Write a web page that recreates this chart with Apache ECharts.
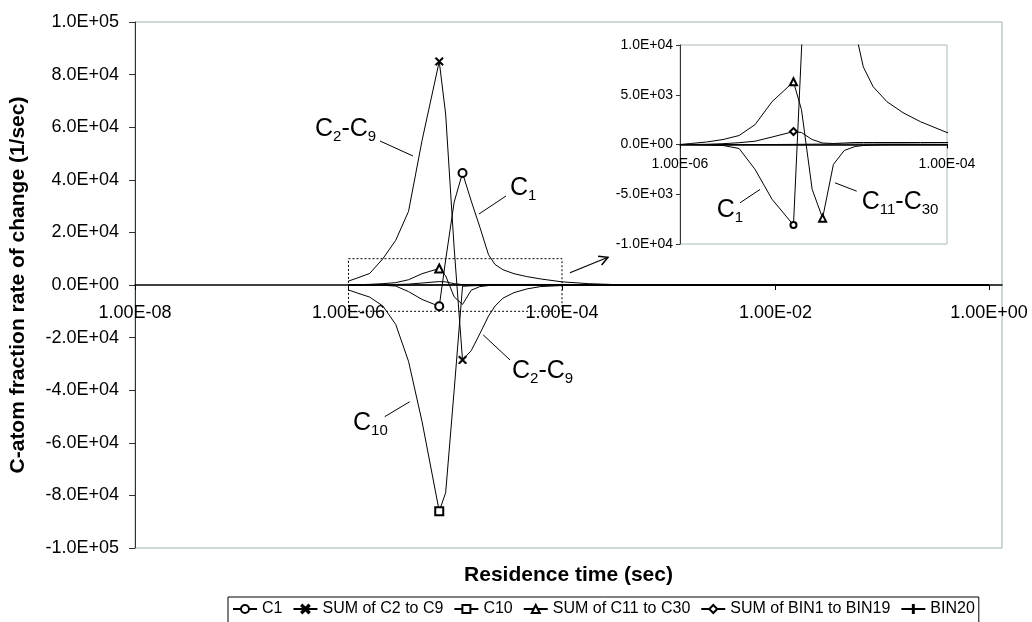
<!DOCTYPE html>
<html>
<head>
<meta charset="utf-8">
<title>C-atom fraction rate of change</title>
<script src="https://cdn.jsdelivr.net/npm/echarts@6/dist/echarts.min.js"></script>
<style>
  html, body { margin: 0; padding: 0; background: #ffffff; }
  #chart { width: 1032px; height: 622px; }
</style>
</head>
<body>
<div id="chart"></div>
<script>
// Residence time of each sample (s)
const residenceTime = [1.00e-6, 1.20e-6, 1.58e-6, 2.10e-6, 2.77e-6, 3.65e-6, 4.89e-6, 7.08e-6,
  8.13e-6, 9.77e-6, 1.17e-5, 1.41e-5, 1.70e-5, 2.05e-5, 2.36e-5, 2.80e-5, 3.55e-5, 4.68e-5,
  6.31e-5, 1.00e-4, 1.78e-4, 3.16e-4, 1.00e-3, 1.00e-2, 1.00e-1, 1.00e0];

// C-atom fraction rate of change (1/s) per group
const rateC1 = [0, 0, -50, -100, -400, -2500, -5500, -8100, 9500, 31500, 42600, 32000,
  22000, 11500, 7800, 5800, 4300, 3200, 2300, 1200, 500, 150, 0, 0, 0, 0];
const rateC2toC9 = [1500, 2600, 4400, 10000, 17000, 28000, 55000, 85000, 65000, 14000, -28500,
  -25000, -18500, -11800, -8000, -5000, -2900, -1500, -600, -200, -50, 0, 0, 0, 0, 0];
const rateC10 = [-1900, -3000, -4600, -8000, -15000, -29000, -52000, -86000, -79000, -40000,
  -500, -300, -200, -100, -80, -50, -30, -20, -10, 0, 0, 0, 0, 0, 0, 0];
const rateC11toC30 = [0, 100, 250, 500, 900, 2000, 4300, 6300, 3500, -4500, -7400, -2000,
  -600, -200, -100, -50, 0, 0, 0, 0, 0, 0, 0, 0, 0, 0];
const rateBin1toBin19 = [0, 0, 20, 80, 180, 330, 750, 1300, 1200, 500, 150, 100, 150, 200,
  200, 200, 200, 200, 200, 200, 150, 80, 0, 0, 0, 0];
const rateBin20 = [0, 0, 0, 0, 0, 0, 0, 10, 20, 30, 40, 40, 40, 40, 40, 40, 40, 40, 30, 20,
  10, 0, 0, 0, 0, 0];

// Axis ticks and bounds
const mainTimeTicks = [1e-8, 1e-6, 1e-4, 1e-2, 1e0];
const mainTimeRange = [1e-8, 1.324];
const detailTimeTicks = [1e-6, 1e-4];
const mainRateRange = [-100000, 100000, 20000];
const detailRateRange = [-10000, 10000, 5000];

// Legend entries
const seriesNames = ['C1', 'SUM of C2 to C9', 'C10', 'SUM of C11 to C30', 'SUM of BIN1 to BIN19', 'BIN20'];

const FONT = "'Liberation Sans', Arial, Helvetica, sans-serif";
const chart = echarts.init(document.getElementById('chart'), null, { renderer: 'canvas' });

function rateLabel(v, digits) {
  if (Math.abs(v) < 1e-9) return (0).toFixed(digits) + 'E+00';
  const e = Math.floor(Math.log10(Math.abs(v)) + 1e-9);
  const m = v / Math.pow(10, e);
  return m.toFixed(digits) + 'E' + (e < 0 ? '-' : '+') + String(Math.abs(e)).padStart(2, '0');
}
function timeLabel(v) {
  const e = Math.round(Math.log10(v));
  return '1.00E' + (e < 0 ? '-' : '+') + String(Math.abs(e)).padStart(2, '0');
}

// marker shapes (the bar keeps a square box so it stays thin)
const SYM = {
  circle: 'emptyCircle',
  cross: 'path://M1.2,0L5,3.8L8.8,0L10,1.2L6.2,5L10,8.8L8.8,10L5,6.2L1.2,10L0,8.8L3.8,5L0,1.2Z',
  square: 'emptyRect',
  triangle: 'emptyTriangle',
  diamond: 'emptyDiamond',
  bar: 'path://M0,5L0,5M4.4,0L5.6,0L5.6,10L4.4,10ZM10,5L10,5'
};

function points(values, marked) {
  return residenceTime.map((t, i) => marked.indexOf(i) >= 0
    ? { value: [t, values[i]] }
    : { value: [t, values[i]], symbol: 'none' });
}

function lineSeries(name, values, symbol, marked, grid, extra) {
  return Object.assign({
    name: name,
    type: 'line',
    xAxisIndex: grid,
    yAxisIndex: grid,
    data: points(values, marked),
    symbol: symbol,
    symbolSize: 8,
    symbolKeepAspect: true,
    showSymbol: true,
    showAllSymbol: true,
    clip: true,
    color: '#000',
    lineStyle: { color: '#000', width: 1 },
    itemStyle: { color: '#000', borderColor: '#000', borderWidth: 1 },
    emphasis: { disabled: true },
    z: 3
  }, extra || {});
}

const mainGrid = { left: 135, top: 22, width: 867, height: 526 };
const detailGrid = { left: 680, top: 45, width: 267, height: 199 };

const series = [
  lineSeries(seriesNames[0], rateC1, SYM.circle, [7, 10], 0, {
    markArea: {
      silent: true,
      itemStyle: { color: 'rgba(0,0,0,0)', borderColor: '#000', borderWidth: 1, borderType: [2, 2] },
      data: [[{ coord: [detailTimeTicks[0], detailRateRange[1]] }, { coord: [detailTimeTicks[1], detailRateRange[0]] }]]
    }
  }),
  lineSeries(seriesNames[1], rateC2toC9, SYM.cross, [7, 10], 0),
  lineSeries(seriesNames[2], rateC10, SYM.square, [7], 0),
  lineSeries(seriesNames[3], rateC11toC30, SYM.triangle, [7], 0),
  lineSeries(seriesNames[4], rateBin1toBin19, SYM.diamond, [], 0),
  lineSeries(seriesNames[5], rateBin20, SYM.bar, [], 0),
  // detail window
  lineSeries('detail-C1', rateC1, SYM.circle, [7], 1, { symbolSize: 6 }),
  lineSeries('detail-C11-C30', rateC11toC30, SYM.triangle, [7, 10], 1, { symbolSize: 7 }),
  lineSeries('detail-BIN1-BIN19', rateBin1toBin19, SYM.diamond, [7], 1, { symbolSize: 7 }),
  lineSeries('detail-BIN20', rateBin20, SYM.bar, [], 1)
];

const option = {
  animation: false,
  backgroundColor: '#ffffff',
  textStyle: { fontFamily: FONT, color: '#000' },
  grid: [
    Object.assign({ show: true, borderColor: '#9fb0b0', borderWidth: 1, backgroundColor: '#fff',
      containLabel: false, outerBoundsMode: 'none' }, mainGrid),
    Object.assign({ show: true, borderColor: '#a9b9b9', borderWidth: 1, backgroundColor: '#fff',
      containLabel: false, outerBoundsMode: 'none' }, detailGrid)
  ],
  xAxis: [
    {
      // time axis drawn through rate = 0 (middle of the symmetric range)
      gridIndex: 0, type: 'log', logBase: 10, min: mainTimeRange[0], max: mainTimeRange[1],
      position: 'bottom', offset: -mainGrid.height / 2,
      axisLine: { onZero: false, lineStyle: { color: '#000', width: 1.6 } },
      axisTick: { show: true, customValues: mainTimeTicks, length: 5, lineStyle: { color: '#000' } },
      axisLabel: { customValues: mainTimeTicks, formatter: timeLabel, fontSize: 18, color: '#000', margin: 19, fontFamily: FONT },
      splitLine: { show: false }, minorTick: { show: false }
    },
    {
      gridIndex: 1, type: 'log', logBase: 10, min: detailTimeTicks[0], max: detailTimeTicks[1],
      position: 'bottom', offset: -detailGrid.height / 2,
      axisLine: { onZero: false, lineStyle: { color: '#000', width: 1.5 } },
      axisTick: { show: true, customValues: detailTimeTicks, length: 4, lineStyle: { color: '#000' } },
      axisLabel: { customValues: detailTimeTicks, formatter: timeLabel, fontSize: 14, color: '#000', margin: 13, fontFamily: FONT },
      splitLine: { show: false }, minorTick: { show: false }
    }
  ],
  yAxis: [
    {
      gridIndex: 0, type: 'value', min: mainRateRange[0], max: mainRateRange[1], interval: mainRateRange[2],
      axisLine: { show: true, onZero: false, lineStyle: { color: '#333', width: 1 } },
      axisTick: { show: true, length: 6, lineStyle: { color: '#333' } },
      axisLabel: { formatter: v => rateLabel(v, 1), fontSize: 18, color: '#000', margin: 16, fontFamily: FONT },
      splitLine: { show: false },
      name: 'C-atom fraction rate of change (1/sec)',
      nameLocation: 'middle', nameGap: 106,
      nameTextStyle: { fontSize: 21, fontWeight: 'bold', color: '#000', fontFamily: FONT }
    },
    {
      gridIndex: 1, type: 'value', min: detailRateRange[0], max: detailRateRange[1], interval: detailRateRange[2],
      axisLine: { show: true, onZero: false, lineStyle: { color: '#333', width: 1 } },
      axisTick: { show: true, length: 4, lineStyle: { color: '#333' } },
      axisLabel: { formatter: v => rateLabel(v, 1), fontSize: 14, color: '#000', margin: 7, fontFamily: FONT },
      splitLine: { show: false }
    }
  ],
  legend: {
    data: seriesNames,
    left: 228, top: 597,
    orient: 'horizontal',
    itemWidth: 24, itemHeight: 10, itemGap: 10,
    padding: [4, 4, 6, 4],
    borderColor: '#000', borderWidth: 1,
    textStyle: { fontSize: 16, color: '#000', fontFamily: FONT },
    selectedMode: false
  },
  series: series
};

chart.setOption(option);

// Curve labels, anchored in data coordinates [time, rate]
const curveLabels = [
  { grid: 0, text: '{b|C}{s|2}{b|-C}{s|9}', at: [4.855e-7, 59300], lead: [[1.973e-6, 54750], [4.019e-6, 49050]] },
  { grid: 0, text: '{b|C}{s|1}', at: [3.257e-5, 36900], lead: [[1.669e-5, 27000], [2.988e-5, 33840]] },
  { grid: 0, text: '{b|C}{s|2}{b|-C}{s|9}', at: [3.401e-5, -32700], lead: [[1.831e-5, -19010], [3.257e-5, -28500]] },
  { grid: 0, text: '{b|C}{s|10}', at: [1.102e-6, -52500], lead: [[2.185e-6, -50070], [3.748e-6, -44370]] },
  { grid: 1, text: '{b|C}{s|1}', at: [1.883e-6, -6630], lead: [[2.814e-6, -5860], [3.975e-6, -4520]] },
  { grid: 1, text: '{b|C}{s|11}{b|-C}{s|30}', at: [2.296e-5, -5830], lead: [[1.449e-5, -3850], [2.106e-5, -4690]] }
];
// Arrow from the dotted window to the detail plot
const windowArrow = [[1.188e-4, 4680], [2.697e-4, 10530]];

function toPx(grid, pt) { return chart.convertToPixel({ gridIndex: grid }, pt); }

const graphics = [];
curveLabels.forEach(lbl => {
  const p = toPx(lbl.grid, lbl.at);
  graphics.push({
    type: 'text', x: p[0], y: p[1], z: 10, silent: true,
    style: {
      text: lbl.text, fill: '#000', align: 'left', verticalAlign: 'middle',
      rich: {
        b: { fontSize: 25, lineHeight: 30, fontFamily: FONT, fill: '#000' },
        s: { fontSize: 15, lineHeight: 12, verticalAlign: 'bottom', fontFamily: FONT, fill: '#000' }
      }
    }
  });
  const a = toPx(lbl.grid, lbl.lead[0]);
  const b = toPx(lbl.grid, lbl.lead[1]);
  graphics.push({ type: 'line', z: 10, silent: true, shape: { x1: a[0], y1: a[1], x2: b[0], y2: b[1] }, style: { stroke: '#000', lineWidth: 1 } });
});
(function () {
  const a = toPx(0, windowArrow[0]);
  const b = toPx(0, windowArrow[1]);
  const ang = Math.atan2(b[1] - a[1], b[0] - a[0]);
  const h = 10, spread = 0.5;
  graphics.push({ type: 'line', z: 10, silent: true, shape: { x1: a[0], y1: a[1], x2: b[0], y2: b[1] }, style: { stroke: '#000', lineWidth: 1.2 } });
  graphics.push({
    type: 'polyline', z: 10, silent: true,
    shape: { points: [
      [b[0] - h * Math.cos(ang - spread), b[1] - h * Math.sin(ang - spread)],
      [b[0], b[1]],
      [b[0] - h * Math.cos(ang + spread), b[1] - h * Math.sin(ang + spread)]
    ] },
    style: { stroke: '#000', lineWidth: 1.5, fill: null }
  });
})();
// x-axis title, centred under the main plot
graphics.push({
  type: 'text', x: mainGrid.left + mainGrid.width / 2, y: 575, z: 10, silent: true,
  style: { text: 'Residence time (sec)', fill: '#000', align: 'center', verticalAlign: 'middle',
    fontSize: 21, fontWeight: 'bold', fontFamily: FONT }
});

chart.setOption({ graphic: graphics });
</script>
</body>
</html>
